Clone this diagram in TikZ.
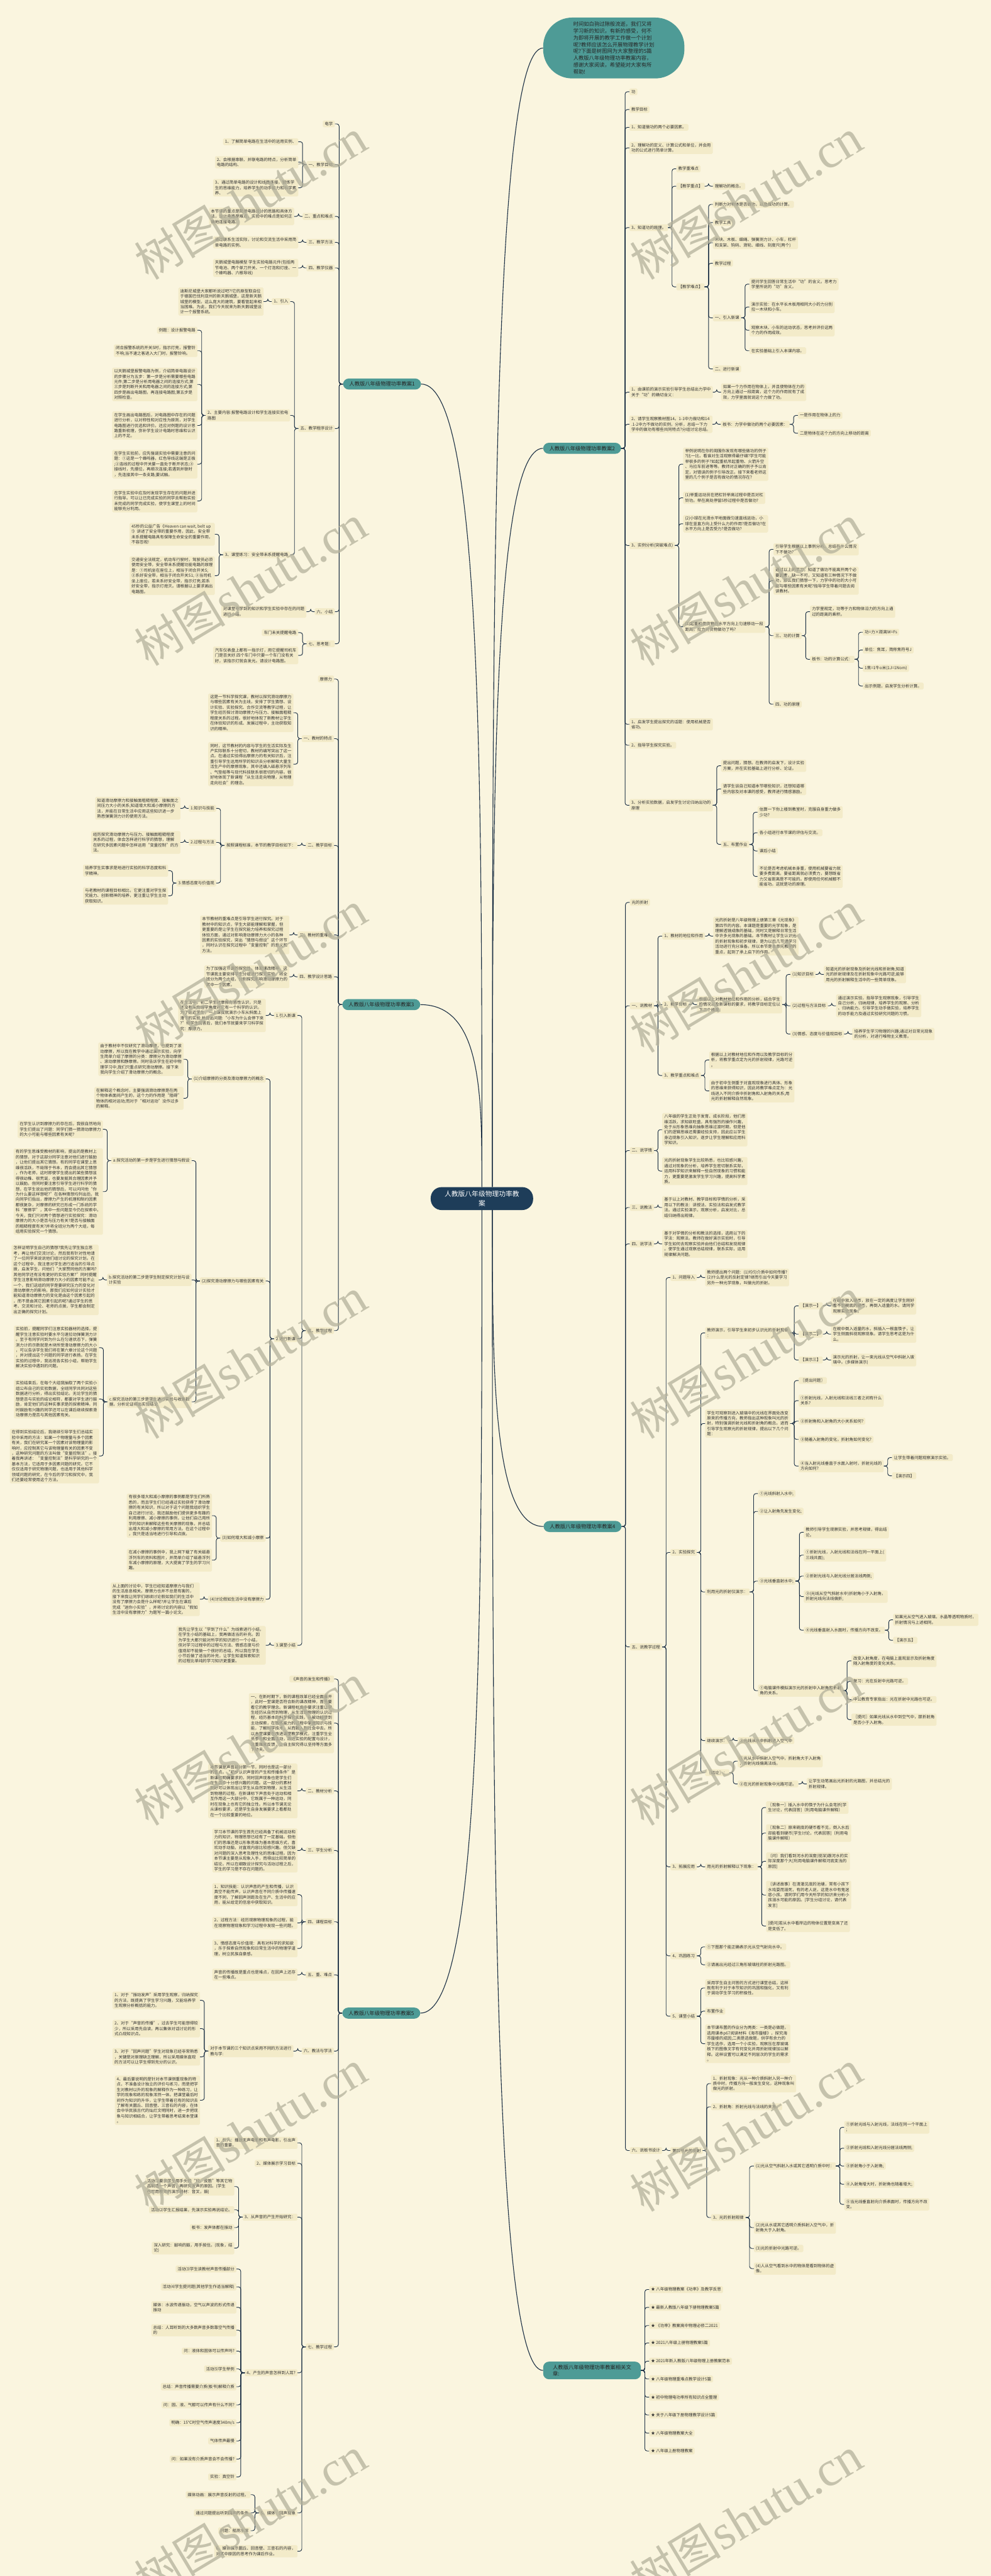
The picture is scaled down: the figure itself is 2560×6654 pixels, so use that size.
\documentclass[tikz,border=0pt]{standalone}
\usepackage{fontspec}
\setmainfont{Noto Sans CJK SC}
\newfontfamily\wmserif{Liberation Serif}
\usetikzlibrary{calc}
\definecolor{bgc}{HTML}{FAF5DF}
\definecolor{boxc}{HTML}{F3EBC9}
\definecolor{linec}{HTML}{1C3045}
\definecolor{tealc}{HTML}{4E9B96}
\definecolor{navyc}{HTML}{1E3D59}
\definecolor{txtc}{HTML}{333333}
\definecolor{wmc}{HTML}{B4B19B}
\tikzset{
 box/.style={fill=boxc, rounded corners=3pt, inner xsep=5pt, inner ysep=4pt, align=left, text=txtc, font=\fontsize{10.5}{13.7}\selectfont},
 link/.style={draw=linec, line width=1.5pt, rounded corners=6pt},
 rootlink/.style={draw=linec, line width=1.8pt},
 lvone/.style={fill=tealc, rounded corners=15pt, inner xsep=16pt, inner ysep=8pt, text=black!85, font=\fontsize{13.5}{17}\selectfont, align=left},
 rootbox/.style={fill=navyc, rounded corners=28pt, inner xsep=36pt, inner ysep=10pt, text=white, font=\fontsize{17.5}{23}\selectfont, align=center},
 introbox/.style={fill=tealc, rounded corners=75pt, inner xsep=78pt, inner ysep=10pt, text=black!85, font=\fontsize{13.5}{17.8}\selectfont, align=left},
 wmark/.style={rotate=31, text=wmc, opacity=0.75, inner sep=0pt},
}
\newcommand\LN[4]{\path let \p1=(#2.west) in node[box,anchor=east] (#1) at (\x1-21pt,-#3pt) {#4};\draw[link] (#2.west) -- ++(-10pt,0pt) |- (#1.east);}
\newcommand\RN[4]{\path let \p1=(#2.east) in node[box,anchor=west] (#1) at (\x1+21pt,-#3pt) {#4};\draw[link] (#2.east) -- ++(10pt,0pt) |- (#1.west);}
\newcommand\WM[3]{\node[wmark] (#1) at (#2pt,-#3pt) {{\fontsize{118}{118}\selectfont 树图} {\wmserif\fontsize{128}{128}\selectfont shutu.cn}};}
\begin{document}
\begin{tikzpicture}
\fill[bgc] (0pt,0pt) rectangle (2560pt,-6654pt);
\useasboundingbox (0pt,0pt) rectangle (2560pt,-6654pt);
% root and level one
\node[rootbox] (root) at (1245pt,-3096pt) {人教版八年级物理功率教\\案};
\node[introbox,anchor=west] (intro) at (1403pt,-124pt) {时间如白驹过隙般流逝，我们又将\\学习新的知识，有新的感受，何不\\为即将开展的教学工作做一个计划\\呢?教师应该怎么开展物理教学计划\\呢?下面是树图网为大家整理的5篇\\人教版八年级物理功率教案内容，\\感谢大家阅读，希望能对大家有所\\帮助!};
\node[lvone,anchor=east] (b1) at (1088pt,-992pt) {人教版八年级物理功率教案1};
\node[lvone,anchor=west] (b2) at (1403pt,-1158pt) {人教版八年级物理功率教案2};
\node[lvone,anchor=east] (b3) at (1086pt,-2595pt) {人教版八年级物理功率教案3};
\node[lvone,anchor=west] (b4) at (1404pt,-3943pt) {人教版八年级物理功率教案4};
\node[lvone,anchor=east] (b5) at (1086pt,-5200pt) {人教版八年级物理功率教案5};
\node[lvone,anchor=west,inner xsep=25pt] (b6) at (1403pt,-6123pt) {人教版八年级物理功率教案相关文\\章:};
\draw[rootlink] (b1.east) .. controls (1245pt,-992pt) and (1245pt,-2029pt) .. (root.north);
\draw[rootlink] (b3.east) .. controls (1245pt,-2595pt) and (1245pt,-2830pt) .. (root.north);
\draw[rootlink] (b5.east) .. controls (1245pt,-5200pt) and (1245pt,-4163pt) .. (root.south);
\draw[rootlink] (intro.west) .. controls (1272pt,-124pt) and (1272pt,-1595pt) .. ([xshift=27pt]root.north);
\draw[rootlink] (b2.west) .. controls (1272pt,-1158pt) and (1272pt,-2112pt) .. ([xshift=27pt]root.north);
\draw[rootlink] (b4.west) .. controls (1272pt,-3943pt) and (1272pt,-3535pt) .. ([xshift=27pt]root.south);
\draw[rootlink] (b6.west) .. controls (1272pt,-6123pt) and (1272pt,-4625pt) .. ([xshift=27pt]root.south);
% ===== 教案1 =====
\LN{a1}{b1}{320}{电学}
\LN{a2}{b1}{425}{一、教学目标}
\LN{a21}{a2}{366}{1、了解简单电路在生活中的运用实例、}
\LN{a22}{a2}{419}{2、会根据串联、并联电路的特点，分析简单\\电路的结构、}
\LN{a23}{a2}{485}{3、通过简单电路的设计和线路连接，锻炼学\\生的思维能力，培养学生的动手能力和科学素\\养、}
\LN{a3}{b1}{559}{二、重点和难点}
\LN{a31}{a3}{559}{本节课的重点是简单电路设计的思路和具体方\\法，设计电路是难点，实验中的难点是如何正\\确地连接电路。}
\LN{a4}{b1}{626}{三、教学方法}
\LN{a41}{a4}{626}{通过联系生活实际，讨论和交流生活中采用简\\单电路的实例、}
\LN{a5}{b1}{692}{四、教学仪器}
\LN{a51}{a5}{692}{天鹅城堡电路模型 学生实验电路元件(包括两\\节电池、两个单刀开关、一个灯泡和灯座、一\\个蜂鸣器、六根导线)}
\LN{a6}{b1}{1107}{五、教学程序设计}
\LN{a61}{a6}{779}{1、引入}
\LN{a611}{a61}{779}{迪斯尼城堡大家都听说过吧?!它的原型取自位\\于德国巴伐利亚州的新天鹅城堡，这是新天鹅\\城堡的模型。这么庞大的建筑，要看管起来相\\当困难。为此，我们今天就来为新天鹅城堡设\\计一个报警系统。}
\LN{a62}{a6}{1073}{2、主要内容:报警电路设计和学生连接实验电\\路图}
\LN{a621}{a62}{853}{例题：设计报警电路}
\LN{a622}{a62}{906}{闭合报警系统的开关S时，指示灯亮，报警铃\\不响;当不速之客进入大门时，报警铃响。}
\LN{a623}{a62}{993}{以天鹅城堡报警电路为例，介绍简单电路设计\\的步骤分为五步：第一步是分析需要哪些电路\\元件;第二步是分析用电器之间的连接方式;第\\三步是判断开关和用电器之间的连接方式;第\\四步是画出电路图，再连接电路图;第五步是\\对照检查。}
\LN{a624}{a62}{1099}{在学生画出电路图后，对电路图中存在的问题\\进行分析，以对称性和对应性为原则，对学生\\电路图进行优选和评价。还应对例题的设计思\\路重新梳理，弥补学生设计电路时思维和认识\\上的不足。}
\LN{a625}{a62}{1199}{在学生实验前，应先强调实验中需要注意的问\\题：①这是一个蜂鸣器，红色导线这端是正极\\;②连线的过程中开关要一直处于断开状态;③\\接线时，先摆位，再顺次连接;若遇到并联时\\，先连接其中一条支路;要试触。}
\LN{a626}{a62}{1294}{在学生实验中应及时发现学生存在的问题并进\\行指导。可以让已完成实验的同学去帮助实验\\未完成的同学完成实验，使学生课堂上的时间\\能够充分利用。}
\LN{a63}{a6}{1433}{3、课堂练习：安全带未系提醒电路}
\LN{a631}{a63}{1380}{45秒的公益广告《Heaven can wait, belt up\\!》讲述了安全带的重要作用，因此，安全带\\未系提醒电路具有保障生命安全的重要作用，\\不容忽视!}
\LN{a632}{a63}{1487}{交通安全法规定，机动车行驶时，驾驶员必须\\使用安全带，安全带未系提醒功能电路的原理\\是：①司机坐在座位上，相当于闭合开关S;\\②系好安全带，相当于闭合开关S1; ③当司机\\坐上座位，若未系好安全带，指示灯亮;若系\\好安全带，指示灯熄灭。请根据以上要求画出\\电路图。}
\LN{a7}{b1}{1580}{六、小结}
\LN{a71}{a7}{1580}{对课堂中学到的知识和学生实验中存在的问题\\进行小结。}
\LN{a8}{b1}{1663}{七、思考题：}
\LN{a81}{a8}{1634}{车门未关提醒电路}
\LN{a82}{a8}{1693}{汽车仪表盘上都有一指示灯，用它提醒司机车\\门是否关好.四个车门中只要一个车门没有关\\好，该指示灯就会发光。请设计电路图。}
% ===== 教案3 =====
\LN{c1}{b3}{1754}{摩擦力}
\LN{c2}{b3}{1908}{一、教材的特点}
\LN{c21}{c2}{1841}{这是一节科学探究课，教材以探究滑动摩擦力\\与哪些因素有关为主线，安排了学生猜想、设\\计实验、实验探究、合作交流等教学过程，让\\学生经历探讨滑动摩擦力与压力、接触面粗糙\\程度关系的过程。很好地体现了新教材让学生\\在体验知识的形成、发展过程中，主动获取知\\识的精神。}
\LN{c22}{c2}{1974}{同时，这节教材的内容与学生的生活实际及生\\产实际联系十分密切，教材的编写突出了这一\\点。在通过实验得出摩擦力的有关知识后，注\\重引导学生运用所学的知识去分析解释大量生\\活生产中的摩擦现象，其中还编入磁悬浮列车\\、气垫船等与现代科技联系很密切的内容。很\\好地体现了新课程“从生活走向物理，从物理\\走向社会”的理念。}
\LN{c3}{b3}{2184}{二、教学目标}
\LN{c31}{c3}{2184}{按照课程标准，本节的教学目标如下：}
\LN{c311}{c31}{2088}{1.知识与技能}
\LN{c3111}{c311}{2088}{知道滑动摩擦力和接触面粗糙程度、接触面之\\间压力大小的关系;知道增大和减小摩擦的方\\法，并能在日常生活中应用这些知识进一步\\熟悉弹簧测力计的使用方法。}
\LN{c312}{c31}{2176}{2.过程与方法}
\LN{c3121}{c312}{2176}{经历探究滑动摩擦力与压力、接触面粗糙程度\\关系的过程，体会怎样进行科学的猜想，理解\\在研究多因素问题中怎样运用“变量控制”的方\\法。}
\LN{c313}{c31}{2281}{3.情感态度与价值观}
\LN{c3131}{c313}{2249}{培养学生实事求是地进行实验的科学态度和科\\学精神。}
\LN{c3132}{c313}{2314}{与老教材的课程目标相比，它更注重对学生探\\究能力、创新精神的培养，更注重让学生主动\\获取知识。}
\LN{c4}{b3}{2415}{三、教材的重难点}
\LN{c41}{c4}{2415}{本节教材的重难点是引导学生进行探究。对于\\教材中的知识点，学生大部能理解和掌握，但\\更重要的是让学生在探究能力培养和探究过程\\体验方面，通过对影响滑动摩擦力大小的各种\\因素的实验探究，突出“猜想与假设”这个环节\\，同时认识在探究过程中“变量控制”的意义和\\方法。}
\LN{c5}{b3}{2523}{四、教学设计思路}
\LN{c51}{c5}{2523}{为了加强这节课的探究性，体现课改精神，这\\节课我主要安排学生分组进行探究实验。将全\\班分为两个大组，分别探究影响滑动摩擦力的\\其中一个因素。}
\LN{c6}{b3}{3437}{五、教学过程}
\LN{c61}{c6}{2623}{1.引入新课}
\LN{c611}{c61}{2623}{在生活中，初二学生对摩擦有感性认识，只是\\还没有从物理学角度对它有一个科学的认识。\\为了贴近学生，一上课我就演示小车从斜面上\\滑下的实验,并提出问题:“小车为什么会停下来\\?”待学生回答后，我们本节就要来学习科学探\\究：摩擦力。}
\LN{c62}{c6}{3458}{2.进行新课}
\LN{c621}{c62}{2787}{(1)介绍摩擦的分类及滑动摩擦力的概念}
\LN{c6211}{c621}{2736}{由于教材中不仅研究了滑动摩擦，也提到了滚\\动摩擦，所以我在教学中通过演示实验，向学\\生简单介绍了摩擦的分类：摩擦分为滑动摩擦\\、滚动摩擦和静摩擦。同时告诉学生在初中物\\理学习中,我们只重点研究滑动摩擦。接下来\\我向学生介绍了滑动摩擦力的概念。}
\LN{c6212}{c621}{2837}{在解释这个概念时，主要强调滑动摩擦是在两\\个物体表面间产生的，这个力的作用是“阻碍”\\物体的相对运动;而对于“相对运动”没作过多\\的解释。}
\LN{c622}{c62}{3309}{(2)探究滑动摩擦力与哪些因素有关}
\LN{c6221}{c622}{2998}{a.探究活动的第一步是学生进行猜想与假设}
\LN{c62211}{c6221}{2917}{在学生认识到摩擦力的存在后，我很自然地向\\学生们提出了问题：同学们猜一猜滑动摩擦力\\的大小可能与哪些因素有关呢?}
\LN{c62212}{c6221}{3078}{有的学生思维受教材的影响，提出的是教材上\\的猜想，对于这部分同学注意对他们进行鼓励\\，让他们提出其它猜想。有的同学在课堂上思\\维很活跃，不局限于书本，而会提出其它猜想\\，作为老师，这时即使学生提出的某些猜想显\\得很幼稚、很荒诞，也要发掘其合理因素并予\\以鼓励。但同时要注意引导学生进行科学的猜\\想，在学生说出他的猜想后，可以问问他“你\\为什么要这样想呢?”在各种猜想均列出后，我\\向同学们指出，摩擦力产生的机理和制约因素\\都很复杂，对摩擦的研究已形成一门系统的学\\科“摩擦学”，其中一些问题至今仍在探索中。\\今天，我们只对两个猜想进行实验探究：滑动\\摩擦力的大小是否与压力有关?是否与接触面\\的粗糙程度有关?并将全班分为两个大组，每\\组用实验探究一个猜想。}
\LN{c6222}{c622}{3306}{b.探究活动的第二步是学生制定探究计划与设\\计实验}
\LN{c62221}{c6222}{3306}{怎样证明学生自己的猜想?我先让学生独立思\\考，再让他们交流讨论，然后我有针对性地请\\了一位同学来说说他们组讨论的探究计划。在\\这个过程中，我注意对学生进行适当的引导点\\拨，启发学生，问他们“大家赞同他的方案吗?\\其他同学还有没有更好的实验方案?”同时提醒\\学生注意影响滑动摩擦力大小的因素可能不止\\一个，我们这组的同学是要研究压力的变化对\\滑动摩擦力的影响，那我们应如何设计实验才\\能知道滑动摩擦力的变化是由这个因素引起的\\，而不是由其它因素引起的呢?通过学生的思\\考、交流和讨论、老师的点拨，学生都会制定\\出正确的探究计划。}
\LN{c6223}{c622}{3621}{c.探究活动的第三步是学生进行实验与收集数\\据，分析论证得出实验结论}
\LN{c62231}{c6223}{3481}{实验前，提醒同学们注意实验器材的选择，提\\醒学生注意实验时要水平匀速拉动弹簧测力计\\。至于有同学问到为什么在匀速状态下，弹簧\\测力计的示数就是木块所受滑动摩擦力的大小\\，可以告诉学生我们将在第六章讨论这个问题\\，并对提出这个问题的同学进行表扬。在学生\\实验的过程中，我巡视各实验小组，帮助学生\\解决实验中遇到的问题。}
\LN{c62232}{c6223}{3614}{实验结束后，在每个大组我抽取了两个实验小\\组公布自己的实验数据，全班同学共同对这些\\数据进行分析，得出实验结论。无论学生的猜\\想是否与实验的结论相符，都要对学生进行鼓\\励，肯定他们的这种实事求是的探索精神。同\\时鼓励有兴趣的同学还可以在课后继续探索滑\\动摩擦力是否与其他因素有关。}
\LN{c62233}{c6223}{3761}{在得到实验结论后，我继续引导学生们总结实\\验中采用的方法：如果一个物理量与多个因素\\有关，我们在研究某一个因素对该物理量的影\\响时，应控制其它与该物理量有关的因素不变\\，这种研究问题的方法叫做“变量控制法”。接\\着我再讲述：“变量控制法”是科学研究的一个\\基本方法，它适用于多因素问题的研究。它不\\仅仅适用于研究物理问题，也适用于其他科学\\领域问题的研究，在今后的学习和探究中，我\\们还要经常使用这个方法。}
\LN{c623}{c62}{3973}{(3)如何增大和减小摩擦}
\LN{c6231}{c623}{3915}{有很多增大和减小摩擦的事例都是学生们所熟\\悉的，而且学生们已经通过实验获得了滑动摩\\擦的有关知识，所以对于这个问题我组织学生\\自己进行讨论，我还鼓励他们提供更多有趣的\\利用摩擦、减小摩擦的事例，让他们自己用所\\学的知识来解释这些有关摩擦的现象，并总结\\出增大和减小摩擦的常用方法。在这个过程中\\，我只是适当地进行引导和点拨。}
\LN{c6232}{c623}{4030}{在减小摩擦的事例中，我上网下载了有关磁悬\\浮列车的资料和图片，并简单介绍了磁悬浮列\\车减小摩擦的原理，大大提高了学生的学习兴\\趣。}
\LN{c624}{c62}{4131}{(4)讨论假如生活中没有摩擦力}
\LN{c6241}{c624}{4131}{从上面的讨论中，学生已经知道摩擦力与我们\\的生活息息相关。摩擦力也并不总是有害的，\\接下来我让同学们继续讨论假如我们的生活中\\没有了摩擦力会是什么样呢?并让学生在课后\\完成“迷你小实验”，并将讨论的内容以“假如\\生活中没有摩擦力”为题写一篇小论文。}
\LN{c63}{c6}{4250}{3.课堂小结}
\LN{c631}{c63}{4250}{我先让学生以“学到了什么”为线索进行小结，\\在学生小结的基础上，我再做适当的补充。因\\为学生大都只能对所学的知识进行一个小结，\\但对学习过程中的过程与方法、情感态度与价\\值观却不能做一个很好的总结，所以我在学生\\小节后做了适当的补充，让学生知道探索知识\\的过程比单纯的学习知识更重要。}
% ===== 教案5 =====
\LN{e1}{b5}{4337}{《声音的发生和传播》}
\LN{e2}{b5}{4451}{一、在新时期下，新的课程改革已经全面展开\\，此时一堂课是否符合新的课改精神，首先要\\看它的教学理念。新课程标准中要求注重让学\\生经历从自然到物理，从生活到物理的认识过\\程，经历基本的科学探究实践，从被动接受到\\主动探索，在锻炼能力的过程中掌握知识与技\\能，了解科学技术，从而融入到社会中去。所\\以本堂课要在改进课堂教学模式，注重学生全\\员参与和全面活动，改进实验的配置与设计，\\注重效果反馈，让自主探究得以坚持等方面多\\下功夫。}
\LN{e3}{b5}{4626}{二、教材分析}
\LN{e31}{e3}{4626}{本节课是声音部分第一节，同时也是这一部分\\的重点。“初步认识声音的产生和传播条件”是\\新课标明确要求的，同时回声现象也是学生们\\在生活中十分感兴趣的问题。这一部分的素材\\刚好可以体现出让学生从自然到物理，从生活\\到物理的过程。在新课标下声音处于运动和相\\互作用这一大部分中，它既属于一种运动，同\\时在现象上也有它的独立性。所以本节课无论\\从课标要求，还是学生自身发展要求上看都处\\在一个比较重要的地位。}
\LN{e4}{b5}{4780}{三、学生分析}
\LN{e41}{e4}{4780}{学习本节课的学生首先已经具备了机械运动和\\力的知识，物理思想已经有了一定基础。但他\\们的思维还是以形象思维为基本思维方式，喜\\欢动手动脑，对直观内容比较感兴趣。但欠缺\\对问题的深入思考及理性化的思维过程。因为\\本节课主要是从现象入手，而得出比较简单的\\结论。所以在细致设计探究与活动过程之后，\\学生的学习是不存在问题的。}
\LN{e5}{b5}{4964}{四、课程目标}
\LN{e51}{e5}{4894}{1、知识技能：认识声音的产生和传播，认识\\真空不能传声，认识声音在不同介质中传播速\\度不同，了解回声测距及在生产、生活中的应\\用，能从给定的信息中获取知识。}
\LN{e52}{e5}{4967}{2、过程方法：经历观察物理现象的过程，能\\在观察物理现象和学习过程中发现一些问题。}
\LN{e53}{e5}{5033}{3、情感态度与价值观：具有对科学的求知欲\\，乐于探索自然现象和日常生活中的物理学道\\理，树立民族自豪感。}
\LN{e6}{b5}{5101}{五、重、难点}
\LN{e61}{e6}{5101}{声音的传播既是重点也是难点，在回声上还存\\在一些难点。}
\LN{e7}{b5}{5298}{六、教法与学法}
\LN{e71}{e7}{5298}{对于本节课的三个知识点采用不同的方法进行\\教与学:}
\LN{e711}{e71}{5167}{1、对于“振动发声”采用学生观察，归纳探究\\的方法，既提高了学生学习兴趣，又能培养学\\生观察分析概括的能力。}
\LN{e712}{e71}{5240}{2、对于“声音的传播”，过去学生可能想得较\\少，所以采用先自读，再以集体对话讨论的形\\式凸现知识点。}
\LN{e713}{e71}{5313}{3、对于“回声问题”学生对现象已经非常熟悉\\，关键是对原理缺乏理解，所以采用媒体直观\\的方法可以让学生得到充分的认识。}
\LN{e714}{e71}{5425}{4、最后要说明的是针对本节课侧重现象的特\\点，不准备设计独立的评价与练习，而是把学\\生对教材以外的现象的解释作为一种练习，让\\学的现象和练的现象浑然一体。把课堂最后时\\间作为知识的升华，让学生带着已有的知识去\\了解有关圜丘、回音壁、三音石的内容，在体\\会中华民族古代的灿烂文明同时，进一步把现\\象与知识相结合，让学生带着思考结束本堂课\\。}
\LN{e8}{b5}{6062}{七、教学过程}
\LN{e81}{e8}{5535}{1、引入：播放无声电影和有声电影，引出声\\音的重要。}
\LN{e82}{e8}{5588}{2、媒体展示学习目标}
\LN{e83}{e8}{5727}{3、从声音的产生开始研究：}
\LN{e831}{e83}{5648}{活动⑴要求学生用手头的“尺、皮筋”等其它物\\品制造一个声音，再研究发声的原因。(学生\\也可用教师的演示器材：音叉，鼓)}
\LN{e832}{e83}{5708}{活动⑵学生汇报结果，先演示实验再说结论。}
\LN{e833}{e83}{5754}{板书：发声体都在振动}
\LN{e834}{e83}{5807}{深入研究：敲响的鼓，用手按住。(现象，结\\论)}
\LN{e84}{e8}{6129}{4、产生的声音怎样到人耳?}
\LN{e841}{e84}{5861}{活动⑶学生读教材声音传播部分}
\LN{e842}{e84}{5907}{活动⑷学生提问题(其他学生作适当解释)}
\LN{e843}{e84}{5960}{媒体：水波传递振动，空气以声波的形式传递\\振动}
\LN{e844}{e84}{6019}{总结：人耳听到的大多数声音多数靠空气传播\\的}
\LN{e845}{e84}{6073}{问：液体和固体可以传声吗?}
\LN{e846}{e84}{6119}{活动⑸学生举例}
\LN{e847}{e84}{6165}{总结：声音传播需要介质(板书)解释介质}
\LN{e848}{e84}{6212}{问：固、液、气都可以传声有什么不同?}
\LN{e849}{e84}{6258}{明确：15℃时空气传声速度340m/s}
\LN{e8410}{e84}{6305}{气体传声最慢}
\LN{e8411}{e84}{6352}{问：如果没有介质声音会不会传播?}
\LN{e8412}{e84}{6398}{实验：真空铃}
\LN{e85}{e8}{6491}{5、媒体：回声现象}
\LN{e851}{e85}{6444}{媒体动画：展示声音反射的过程。}
\LN{e852}{e85}{6491}{通过问题提出听到回声的条件}
\LN{e853}{e85}{6537}{问题：船测水深}
\LN{e86}{e8}{6590}{6、媒体展示圜丘、回音壁、三音石的内容，\\对其中原因的思考作为课后作业。}
% ===== 教案2 =====
\RN{d1}{b2}{237}{功}
\RN{d2}{b2}{283}{教学目标}
\RN{d3}{b2}{329}{1、知道做功的两个必要因素。}
\RN{d4}{b2}{382}{2、理解功的定义、计算公式和单位，并会用\\功的公式进行简单计算。}
\RN{d5}{b2}{588}{3、知道功的原理。}
\RN{d51}{d5}{436}{教学重难点}
\RN{d52}{d5}{481}{【教学重点】}
\RN{d521}{d52}{481}{理解功的概念。}
\RN{d53}{d5}{741}{【教学难点】}
\RN{d531}{d53}{528}{判断力对物体是否做功，以及做功的计算。}
\RN{d532}{d53}{575}{教学工具}
\RN{d533}{d53}{627}{木块、木板、细绳、弹簧测力计、小车，杠杆\\和支架、钩码、滑轮、细线、刻度尺(两个)}
\RN{d534}{d53}{680}{教学过程}
\RN{d535}{d53}{821}{一、引入新课}
\RN{d5351}{d535}{734}{提问学生回答日常生活中“功”的含义。思考力\\学里所说的“功”含义。}
\RN{d5352}{d535}{793}{演示实验：在水平长木板用相同大小的力分别\\拉一木块和小车。}
\RN{d5353}{d535}{853}{观察木块、小车的运动状态，思考并评价这两\\个力的作用成效。}
\RN{d5354}{d535}{906}{在实验基础上引入本课内容。}
\RN{d536}{d53}{953}{二、进行新课}
\RN{d6}{b2}{1013}{1、由课前的演示实验引导学生总结出力学中\\关于“功”的确切含义：}
\RN{d61}{d6}{1013}{如果一个力作用在物体上，并且使物体在力的\\方向上通过一段距离，这个力的作用就有了成\\效，力学里面就说这个力做了功。}
\RN{d7}{b2}{1096}{2、请学生观察教材图14。1-1中力做功和14\\.1-2中力不做功的实例，分析，总结一下力\\学中的做功有哪些共同特点?分组讨论总结。}
\RN{d71}{d7}{1096}{板书：力学中做功的两个必要因素：}
\RN{d711}{d71}{1073}{一是作用在物体上的力}
\RN{d712}{d71}{1119}{二是物体在这个力的方向上移动的距离}
\RN{d8}{b2}{1409}{3、实例分析(突破难点)}
\RN{d81}{d8}{1199}{举例说明在你的周围你发现有哪些做功的例子\\?比一比，看谁对生活观察得最仔细?学生可能\\举很多的例子?如起重机吊起重物、火箭升空\\、马拉车前进等等。教师对正确的例子予以肯\\定，对错误的例子引导改正。接下来看老师这\\里的几个例子是否有做功的情况存在?}
\RN{d82}{d8}{1286}{(1)举重运动员在把杠铃举高过程中是否对杠\\铃功。举在高处停留5秒过程中是否做功?}
\RN{d83}{d8}{1353}{(2)小球在光滑水平地面做匀速直线运动，小\\球在竖直方向上受什么力的作用?是否做功?在\\水平方向上是否受力?是否做功?}
\RN{d84}{d8}{1619}{(3)起重机使货物在水平方向上匀速移动一段\\距离，拉力对货物做功了吗?}
\RN{d841}{d84}{1419}{引导学生根据以上事例分析、总结在什么情况\\下不做功?}
\RN{d842}{d84}{1500}{通过以上的学习，知道了做功不能离开两个必\\要因素，缺一不可，又知道有三种情况下不做\\功，那么我们猜想一下，力学中的功的大小可\\能与哪些因素有关呢?指导学生带着问题去阅\\读教材。}
\RN{d843}{d84}{1642}{三、功的计算}
\RN{d8431}{d843}{1580}{力学里规定，功等于力和物体沿力的方向上通\\过的距离的乘积。}
\RN{d8432}{d843}{1703}{板书：功的计算公式：}
\RN{d84321}{d8432}{1633}{功=力×距离W=Fs}
\RN{d84322}{d8432}{1679}{单位：焦耳，简称焦符号J}
\RN{d84323}{d8432}{1726}{1焦=1牛o米(1J=1Nom)}
\RN{d84324}{d8432}{1772}{出示例题，启发学生分析计算。}
\RN{d844}{d84}{1819}{四、功的原理}
\RN{d9}{b2}{1871}{1、启发学生提出探究的话题：使用机械是否\\省功。}
\RN{d10}{b2}{1925}{2、指导学生探究实验。}
\RN{d11}{b2}{2080}{3、分析实验数据，启发学生讨论归纳出功的\\原理}
\RN{d111}{d11}{1978}{提出问题，猜想。在教师的启发下，设计实验\\方案，并在实验基础上进行分析、论证。}
\RN{d112}{d11}{2038}{请学生谈自己知道本节哪些知识，还想知道哪\\些内容及对本课的感受，教师进行情感激励。}
\RN{d113}{d11}{2181}{五、布置作业}
\RN{d1131}{d113}{2098}{估算一下你上楼到教室时，克服自身重力做多\\少功?}
\RN{d1132}{d113}{2151}{各小组进行本节课的评估与交流。}
\RN{d1133}{d113}{2198}{课后小结}
\RN{d1134}{d113}{2264}{不论是否考虑机械本身重，使用机械要省力就\\要多费距离，要省距离就必须费力，要想既省\\力又省距离是不可能的。即使用任何机械都不\\能省功。这就是功的原理。}
% ===== 教案4 =====
\RN{f1}{b4}{2331}{光的折射}
\RN{f2}{b4}{2598}{一、说教材}
\RN{f21}{f2}{2418}{1、教材的地位和作用}
\RN{f211}{f21}{2418}{光的折射是八年级物理上册第三章《光现象》\\第四节的内容。本课题是重要的光学现象，是\\理解透镜成像的基础，同时又是解释日常生活\\中许多光现象的基础。本节教材让学生认识光\\的折射现象和初步规律，是为以后几节课学习\\活动进行充分准备。所以本节是本单元教学的\\重点，起到了承上启下的作用。}
\RN{f22}{f2}{2595}{2、教学目标}
\RN{f221}{f22}{2595}{根据以上对教材地位和作用的分析，结合学生\\的情况以及新课标的要求，将教学目标定位以\\下三个维度：}
\RN{f2211}{f221}{2517}{(1)知识目标}
\RN{f22111}{f2211}{2517}{知道光的折射现象及折射光线和折射角;知道\\光的折射规律及在折射现象中光路可逆;能够\\用光的折射解释生活中的一些简单现象。}
\RN{f2212}{f221}{2598}{(2)过程与方法目标}
\RN{f22121}{f2212}{2598}{通过演示实验，指导学生观察现象，引导学生\\自己分析，归纳规律，培养学生的观察、分析\\、归纳能力。引导学生动手做实验，培养学生\\的动手能力及通过实验研究问题的习惯。}
\RN{f2213}{f221}{2671}{(3)情感、态度与价值观目标}
\RN{f22131}{f2213}{2671}{培养学生学习物理的兴趣;通过对日常光现象\\的分析，对进行唯物主义教育。}
\RN{f23}{f2}{2778}{3、教学重点和难点}
\RN{f231}{f23}{2738}{根据以上对教材地位和作用以及教学目标的分\\析，将教学重点定为光的折射规律，光路可逆\\。}
\RN{f232}{f23}{2818}{由于初中生侧重于对直观现象进行具体、形象\\的思维来获得知识，因此将教学难点定为：光\\线进入不同介质中折射角和入射角的关系;用\\光的折射解释自然现象。}
\RN{f3}{b4}{2972}{二、说学情}
\RN{f31}{f3}{2918}{八年级的学生正处于发育、成长阶段，他们思\\维活跃，求知欲旺盛，具有强烈的操作兴趣，\\处于从形象思维向抽象思维过渡时期，但是他\\们的逻辑思维还需要经验支持，因此应以学生\\身边现象引入知识，逐步让学生理解和应用科\\学知识。}
\RN{f32}{f3}{3025}{光的折射现象学生比较熟悉，也比较感兴趣，\\通过对现象的分析，培养学生密切联系实际，\\运用科学知识来解释一些自然现象的习惯和能\\力，更重要是激发学生学习兴趣，提高科学素\\质。}
\RN{f4}{b4}{3119}{三、说教法}
\RN{f41}{f4}{3119}{基于以上对教材、教学目标和学情的分析，采\\用以下的教法：讲授法、实验法和启发式教学\\法。通过实验演示，观察分析，启发对比，总\\结归纳得出规律。}
\RN{f5}{b4}{3213}{四、说学法}
\RN{f51}{f5}{3213}{基于对学情的分析和教法的选择，选用以下的\\学法：观察法。教师在做好演示实验时，引导\\学生如何去观察实验并由他们总结和发现规律\\。使学生通过观察总结规律，联系实际，运用\\规律解决问题。}
\RN{f6}{b4}{4254}{五、说教学过程}
\RN{f61}{f6}{3300}{1、问题导入}
\RN{f611}{f61}{3300}{教师提出两个问题：(1)均匀介质中如何传播?\\(2)什么是光的反射定律?继而引出今天要学习\\另外一种光学现象，叫做光的折射。}
\RN{f62}{f6}{4010}{2、实验探究}
\RN{f621}{f62}{3443}{教师演示，引导学生来初步认识光的折射现象\\：}
\RN{f6211}{f621}{3373}{【演示一】}
\RN{f62111}{f6211}{3373}{在碗中放入硬币，放在一定的高度让学生刚好\\看不到碗底的硬币，再倒入适量的水。请同学\\观察实验现象。}
\RN{f6212}{f621}{3446}{【演示二】}
\RN{f62121}{f6212}{3446}{在碗中倒入适量的水，斜插入一根直筷子，让\\学生侧面斜视观察现象。请学生思考这是为什\\么。}
\RN{f6213}{f621}{3513}{【演示三】}
\RN{f62131}{f6213}{3513}{演示光的折射，让一束光线从空气中斜射入玻\\璃中。(多媒体演示)}
\RN{f622}{f62}{3677}{学生可观察到进入玻璃中的光线在界面处改变\\原来的传播方向，教师指出这种现象叫光的折\\射，特别强调折射光线和折射角的概念。进而\\引导学生观察光的折射规律，提出以下几个问\\题：}
\RN{f6221}{f622}{3566}{〖提出问题〗}
\RN{f6222}{f622}{3618}{①折射光线，入射光线和法线三者之间有什么\\关系?}
\RN{f6223}{f622}{3671}{②折射角和入射角的大小关系如何?}
\RN{f6224}{f622}{3718}{③随着入射角的变化，折射角如何变化?}
\RN{f6225}{f622}{3787}{④当入射光线垂直于水面入射时，折射光线的\\方向如何?}
\RN{f62251}{f6225}{3765}{让学生带着问题观察演示实验。}
\RN{f62252}{f6225}{3812}{【演示四】}
\RN{f623}{f62}{4112}{利用光的折射仪演示：}
\RN{f6231}{f623}{3858}{①光线斜射入水中;}
\RN{f6232}{f623}{3904}{②让入射角先发生变化;}
\RN{f6233}{f623}{4084}{③光线垂直射水中;}
\RN{f62331}{f6233}{3958}{教师引导学生观察实验，并思考规律，得出结\\论。}
\RN{f62332}{f6233}{4017}{①折射光线，入射光线和法线在同一平面上(\\三线共面);}
\RN{f62333}{f6233}{4071}{②折射光线与入射光线分居法线两侧;}
\RN{f62334}{f6233}{4124}{③(光线从空气斜射水中)折射角小于入射角，\\折射光线向法线偏折;}
\RN{f62335}{f6233}{4211}{④光线垂直射入水面时，传播方向不改变。}
\RN{f623351}{f62335}{4184}{如果光从空气进入玻璃，水晶等透明物质时，\\折射情况与上述相同。}
\RN{f623352}{f62335}{4237}{【演示五】}
\RN{f6234}{f623}{4367}{①电脑课件模拟演示光的折射中入射角和折射\\角的关系。}
\RN{f62341}{f6234}{4290}{改变入射角度，在电脑上直观显示及折射角度\\随入射角度的变化关系。}
\RN{f62342}{f6234}{4343}{复习：光在反射中光路可逆。}
\RN{f62343}{f6234}{4390}{中公教育专家指出：光在折射中光路也可逆。}
\RN{f62344}{f6234}{4442}{〖提问〗如果光线从水中到空气中，那折射角\\是否小于入射角。}
\RN{f624}{f62}{4496}{继续演示：}
\RN{f6241}{f624}{4496}{②光线从水中斜射进入空气中}
\RN{f625}{f62}{4579}{〖结论〗：}
\RN{f6251}{f625}{4549}{①光从水中斜射入空气中，折射角大于入射角\\，折射光线偏离法线。}
\RN{f6252}{f625}{4608}{②在光的折射现象中光路可逆。}
\RN{f62521}{f6252}{4608}{让学生动笔画出光折射的光路图，并总结光的\\折射规律。}
\RN{f63}{f6}{4822}{3、拓展应用}
\RN{f631}{f63}{4822}{用光的折射解释以下现象：}
\RN{f6311}{f631}{4669}{〖现象一〗插入水中的筷子为什么会弯折[学\\生讨论，代表回答]〔利用电脑课件解释〕}
\RN{f6312}{f631}{4735}{〖现象二〗原来碗底的硬币看不见，倒入水后\\却能看到硬币[学生讨论，代表回答]〔利用电\\脑课件解释〕}
\RN{f6313}{f631}{4808}{〔问〕我们看到河水的深度(视深)跟河水的实\\际深度那个大[利用电脑课件解释河底变浅的\\原因]}
\RN{f6314}{f631}{4895}{〔讲述故事〕在清澈见底的池塘，常有小孩下\\水戏耍而溺死，有的老人说，这是水中有鬼迷\\惑小孩。请同学们用今天所学的知识来分析小\\孩溺水可能的原因。[学生分组讨论，请代表\\发言]}
\RN{f6315}{f631}{4975}{[提问]若从水中看岸边的物体位置是变高了还\\是变低了。}
\RN{f64}{f6}{5052}{4、巩固练习}
\RN{f641}{f64}{5029}{①下图那个能正确表示光从空气射向水中。}
\RN{f642}{f64}{5075}{②请画出光经过三角形玻璃柱的折射光路图。}
\RN{f65}{f6}{5208}{5、课堂小结}
\RN{f651}{f65}{5135}{采用学生自主问答的方式进行课堂总结，这样\\既有利于对于本节知识的巩固和强化，又有利\\于调动学生学习的积极性。}
\RN{f652}{f65}{5195}{布置作业}
\RN{f653}{f65}{5279}{本节课布置的作业分为两类：一类是必做题，\\选用课本p67阅读材料《海市蜃楼》，探究海\\市蜃楼的成因;二类是选做题，供学有余力的\\学生选作，选用一个小实验，观察压在厚玻璃\\板下的图像文字有何变化并用折射规律加以解\\释。这样设置可以满足不同层次的学生的需求\\。}
\RN{f7}{b4}{5555}{六、说板书设计}
\RN{f71}{f7}{5555}{第四节光的折射}
\RN{f711}{f71}{5382}{1、折射现象：光从一种介质斜射入另一种介\\质中时，传播方向一般发生变化，这种现象叫\\做光的折射。}
\RN{f712}{f71}{5442}{2、折射角：折射光线与法线的夹角。}
\RN{f713}{f71}{5728}{3、光的折射规律}
\RN{f7131}{f713}{5595}{(1)光从空气斜射入水或其它透明介质中时：}
\RN{f71311}{f7131}{5495}{①折射光线与入射光线，法线在同一个平面上\\;}
\RN{f71312}{f7131}{5549}{②折射光线和入射光线分居法线两侧;}
\RN{f71313}{f7131}{5595}{③折射角小于入射角;}
\RN{f71314}{f7131}{5642}{④入射角增大时，折射角也随着增大;}
\RN{f71315}{f7131}{5694}{⑤当光线垂直射向介质表面时，传播方向不改\\变。}
\RN{f7132}{f713}{5754}{(2)光从水或其它透明介质斜射入空气中，折\\射角大于入射角。}
\RN{f7133}{f713}{5808}{(3)光的折射中光路可逆。}
\RN{f7134}{f713}{5860}{(4)人从空气看到水中的物体是看到物体的虚\\像。}
% ===== 相关文章 =====
\RN{g1}{b6}{5914}{★ 八年级物理教案《功率》及教学反思}
\RN{g2}{b6}{5960}{★ 最新人教版八年级下册物理教案5篇}
\RN{g3}{b6}{6007}{★ 《功率》教案高中物理必修二2021}
\RN{g4}{b6}{6052}{★ 2021八年级上册物理教案5篇}
\RN{g5}{b6}{6099}{★ 2021年新人教版八年级物理上册教案范本}
\RN{g6}{b6}{6145}{★ 八年级物理重难点教学设计5篇}
\RN{g7}{b6}{6192}{★ 初中物理电功率所有知识点全整理}
\RN{g8}{b6}{6238}{★ 关于八年级下册物理教学设计5篇}
\RN{g9}{b6}{6285}{★ 八年级物理教案大全}
\RN{g10}{b6}{6331}{★ 八年级上册物理教案}
% ===== watermark =====
\foreach \k in {0,...,6} {
  \pgfmathsetmacro\wy{515+998*\k}
  \WM{wl\k}{647}{\wy}
  \WM{wr\k}{1927}{\wy}
}
\end{tikzpicture}
\end{document}
